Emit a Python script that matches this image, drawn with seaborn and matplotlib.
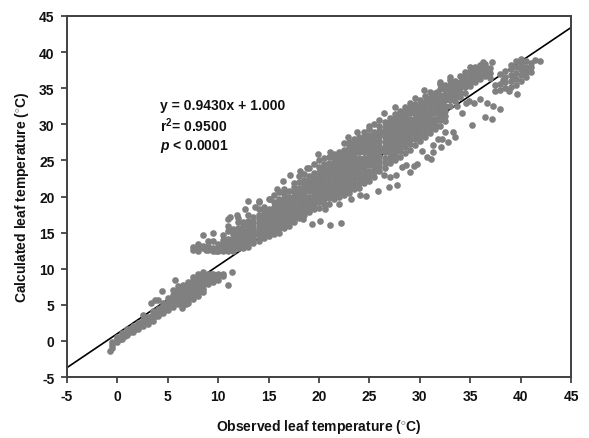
import matplotlib
matplotlib.use("Agg")
import matplotlib.pyplot as plt
import pandas as pd
import seaborn as sns

# Observed temperature columns and the calculated values read in each column
low_x = [-0.5, 0, 0.5, 1, 1.5, 2, 2.5, 3, 3.5, 4, 4.5, 5, 5.5, 6, 6.5, 7, 7.5, 8, 8.5, 9, 9.5, 10, 10.5]
low_y = [
    [-1.0, -0.5, -0.1], [-0.2, 0.3, 0.6], [0.3, 0.8, 1.1], [0.8, 1.2, 1.6], [1.2, 1.6, 2.1],
    [1.6, 2.0, 2.5], [2.0, 2.4, 2.9], [2.3, 2.8, 3.3], [2.8, 3.2, 3.7, 4.2], [3.5, 3.9, 4.4],
    [3.8, 4.3, 4.8, 5.3], [4.3, 4.8, 5.4, 5.9], [4.7, 5.2, 5.8, 6.3], [5.1, 5.6, 6.2, 6.8, 7.2],
    [5.6, 6.1, 6.7, 7.3, 7.8], [5.8, 6.4, 7.0, 7.6, 8.1], [6.3, 6.9, 7.5, 8.1, 8.5],
    [6.7, 7.3, 7.9, 8.4, 8.9], [7.2, 7.8, 8.3, 8.9, 9.2], [7.9, 8.4, 8.9, 9.3], [8.2, 8.7, 9.2],
    [8.5, 9.0, 9.3], [9.0, 9.3],
]
low_fill_x = [0.25, 0.75, 1.25, 1.75, 2.25, 2.75, 3.25, 3.75, 4.25, 4.75, 5.25, 5.75, 6.25, 6.25, 6.75, 6.75,
              7.25, 7.25, 7.75, 7.75, 8.25, 8.25, 8.75, 8.75, 9.25, 9.25, 9.75, 10.25, 1.25, 2.25, 3.25, 4.25,
              6.5, 7.0, 7.5, 8.0, 8.5, 5.5, 6.0, 7.5, 8.0, 8.5]
low_fill_y = [0.2, 0.7, 1.2, 1.6, 2.0, 2.5, 2.9, 3.4, 3.9, 4.4, 5.0, 5.4, 5.9, 6.6, 6.4, 7.2,
              6.6, 7.5, 7.3, 8.2, 7.6, 8.6, 8.2, 9.0, 8.6, 9.3, 9.0, 9.1, 1.6, 2.5, 3.3, 4.6,
              5.0, 5.3, 5.8, 6.2, 6.8, 7.0, 7.6, 8.9, 9.2, 9.5]
low_out_x = [5.7, 4.4, 3.3, 3.7, 11.4, 11.0, 6.4, 6.8, -0.73, 2.5, 4.0]
low_out_y = [8.4, 6.9, 5.25, 5.6, 9.6, 7.8, 4.55, 5.1, -1.36, 3.6, 5.7]

mid_x = [7.5, 8, 8.5, 9, 9.5, 10, 10.5, 11, 11.5, 12, 12.5, 13, 13.5, 14, 14.5, 15, 15.5, 16, 16.5, 17,
         17.5, 18, 18.5, 19, 19.5, 20, 20.5, 21]
mid_y = [
    [12.6, 13.0], [12.4, 12.9, 13.4], [12.8, 13.2, 14.7], [12.6, 13.2, 13.9], [12.5, 12.9, 13.8, 14.9],
    [12.4, 12.9, 13.4], [12.4, 12.9, 13.4, 14.0, 14.7], [12.5, 13.0, 13.5, 14.1, 15.2, 15.9, 16.9],
    [12.5, 13.0, 13.6, 14.2, 14.8, 15.5], [12.8, 13.3, 13.9, 14.5, 15.1, 15.7, 16.5, 17.0],
    [12.9, 13.5, 14.1, 14.7, 15.3, 15.9, 16.5], [13.0, 13.6, 14.2, 14.8, 15.4, 16.0, 16.6, 17.4],
    [13.5, 14.1, 14.7, 15.3, 15.9, 16.5, 17.1], [13.9, 14.5, 15.1, 15.7, 16.3, 16.9, 17.5, 18.2, 19.2],
    [14.3, 14.9, 15.5, 16.1, 16.7, 17.3, 18.0, 18.6], [14.5, 15.1, 15.8, 16.4, 17.0, 17.6, 18.3, 19.6],
    [14.8, 15.4, 16.0, 16.7, 17.3, 18.0, 18.6, 19.2, 20.2], [15.0, 15.6, 16.3, 17.0, 17.7, 18.3, 19.0, 19.6, 20.6],
    [15.6, 16.2, 16.9, 17.6, 18.3, 19.0, 19.7, 20.3, 21.0], [15.9, 16.6, 17.3, 18.0, 18.7, 19.4, 20.0, 20.7],
    [16.4, 17.1, 17.8, 18.5, 19.2, 19.9, 20.6, 21.3, 21.9], [17.0, 17.7, 18.4, 19.1, 19.8, 20.5, 21.2, 22.0, 22.8],
    [17.4, 18.1, 18.8, 19.5, 20.2, 20.9, 21.6, 22.3, 23.1], [17.9, 18.6, 19.3, 20.0, 20.7, 21.4, 22.1, 22.8, 24.0],
    [18.3, 19.0, 19.7, 20.4, 21.1, 21.8, 22.5, 23.2, 24.5], [18.4, 19.2, 19.9, 20.6, 21.3, 22.0, 22.7, 23.4, 24.1, 25.0],
    [18.9, 19.6, 20.3, 21.0, 21.7, 22.4, 23.1, 23.8, 24.5, 25.3], [19.0, 19.8, 20.5, 21.2, 21.9, 22.6, 23.3, 24.0, 24.7, 25.5],
]

high_x = [21.5, 22, 22.5, 23, 23.5, 24, 24.5, 25, 25.5, 26, 26.5, 27, 27.5, 28, 28.5, 29, 29.5, 30, 30.5, 31,
          31.5, 32, 32.5, 33, 33.5, 34, 34.5, 35, 35.5, 36, 36.5, 37, 37.5, 38, 38.5, 39, 39.5, 40, 40.5, 41]
high_y = [
    [19.6, 20.3, 21.0, 21.7, 22.4, 23.1, 23.8, 24.5, 25.2, 25.9],
    [19.9, 20.6, 21.3, 22.0, 22.7, 23.4, 24.1, 24.8, 25.5, 26.2],
    [20.2, 20.9, 21.6, 22.3, 23.0, 23.7, 24.4, 25.1, 25.8, 26.5, 27.4],
    [20.5, 21.2, 21.9, 22.6, 23.3, 24.0, 24.7, 25.4, 26.1, 26.8, 27.6],
    [21.0, 21.7, 22.4, 23.1, 23.8, 24.5, 25.2, 25.9, 26.6, 27.3, 28.0],
    [21.2, 21.9, 22.6, 23.3, 24.0, 24.7, 25.4, 26.1, 26.8, 27.5, 28.3],
    [21.9, 22.6, 23.3, 24.0, 24.7, 25.4, 26.1, 26.8, 27.5, 28.2, 29.0],
    [22.2, 22.9, 23.6, 24.3, 25.0, 25.7, 26.4, 27.1, 27.8, 28.5, 29.4],
    [22.7, 23.4, 24.1, 24.8, 25.5, 26.2, 26.9, 27.6, 28.3, 29.0, 30.0],
    [23.5, 24.2, 24.9, 25.6, 26.3, 27.0, 27.7, 28.4, 29.1, 29.8, 30.6],
    [24.0, 24.7, 25.4, 26.1, 26.8, 27.5, 28.2, 28.9, 29.6, 30.3],
    [24.6, 25.3, 26.0, 26.7, 27.4, 28.1, 28.8, 29.5, 30.2, 30.9],
    [25.1, 25.8, 26.5, 27.2, 27.9, 28.6, 29.3, 30.0, 30.7, 31.4],
    [25.5, 26.3, 27.0, 27.7, 28.4, 29.1, 29.8, 30.5, 31.2, 31.9],
    [26.0, 26.8, 27.5, 28.2, 28.9, 29.6, 30.3, 31.0, 31.7, 32.4],
    [26.5, 27.3, 28.0, 28.7, 29.4, 30.1, 30.8, 31.5, 32.2, 33.0],
    [27.2, 27.9, 28.6, 29.3, 30.0, 30.7, 31.4, 32.1, 32.8],
    [27.7, 28.4, 29.1, 29.8, 30.5, 31.2, 31.9, 32.6, 33.4],
    [28.2, 28.9, 29.6, 30.3, 31.0, 31.7, 32.4, 33.1, 33.9],
    [28.8, 29.5, 30.2, 30.9, 31.6, 32.3, 33.0, 33.7, 34.5],
    [29.4, 30.1, 30.8, 31.5, 32.2, 32.9, 33.6, 34.3],
    [29.8, 30.6, 31.3, 32.0, 32.7, 33.4, 34.1, 34.9, 35.6],
    [30.4, 31.2, 31.9, 32.6, 33.3, 34.0, 34.7, 35.4],
    [32.6, 33.3, 34.0, 34.7, 35.4, 36.2],
    [33.2, 33.9, 34.6, 35.3, 36.0],
    [33.8, 34.5, 35.2, 35.9, 36.7],
    [34.4, 35.1, 35.8, 36.5, 37.2],
    [35.3, 36.0, 36.7, 37.4],
    [35.9, 36.6, 37.3, 38.0],
    [36.3, 37.0, 37.7, 38.2],
    [36.7, 37.3, 37.9, 38.3],
    [36.4, 37.1, 37.8],
    [34.6, 35.4],
    [34.8, 35.6, 36.9],
    [35.0, 35.8, 36.6, 37.4],
    [35.2, 36.0, 36.8, 37.6, 38.2],
    [35.5, 36.3, 37.1, 37.9, 38.7],
    [36.0, 36.8, 37.6, 38.4, 39.0],
    [36.6, 37.3, 38.0, 38.7],
    [37.2, 37.9, 38.5],
]

# Irregular points on the band's upper and lower edges
edge_x = [16.46, 17.1, 18.1, 18.8, 19.9, 21.1, 22.9, 23.8, 25.0, 26.4, 27.5, 29.5, 30.4, 32.0, 33.0, 34.2, 35.0, 36.3, 37.2,
          18.4, 20.6, 23.2, 24.7, 25.9, 26.9, 29.4, 27.6, 28.6, 24.1, 22.0,
          11.2, 11.9, 13.0, 14.0, 15.1, 15.8, 12.7, 13.7]
edge_y = [22.1, 23.0, 23.5, 23.9, 25.9, 26.1, 28.2, 29.0, 29.7, 31.5, 32.4, 33.7, 34.8, 35.8, 36.6, 36.5, 38.0, 38.6, 38.6,
          16.9, 18.3, 19.7, 20.1, 20.8, 21.3, 24.2, 23.0, 24.4, 20.2, 19.0,
          17.2, 17.4, 19.4, 19.4, 19.6, 21.0, 18.2, 18.5]

# Points between the columns, in the body of the band
fill_x = [8.75, 9.25, 9.75, 10.25, 10.75, 11.25, 11.75, 12.25, 12.75, 13.25, 13.25, 13.75, 14.25, 14.25, 14.75, 14.75,
          15.25, 15.25, 15.75, 15.75, 16.25, 16.25, 16.75, 16.75, 17.25, 17.25, 17.75, 17.75, 18.25, 18.25, 18.75, 18.75,
          19.25, 19.25, 19.75, 19.75, 20.25, 20.25, 20.75, 20.75, 21.25, 21.25, 21.75, 21.75, 22.25, 22.25, 22.75, 22.75,
          23.25, 23.25, 23.75, 23.75, 24.25, 24.25, 24.75, 24.75, 25.25, 25.25, 25.75, 25.75, 26.25, 26.25, 26.75, 26.75,
          27.25, 27.25, 27.75, 27.75, 28.25, 28.25, 28.75, 28.75, 29.25, 29.25, 29.75, 29.75, 30.25, 30.25, 30.75, 30.75,
          31.25, 31.25, 31.75, 31.75, 32.25, 32.75, 33.25, 33.75, 34.25, 35.25, 36.25, 38.25, 39.25, 40.25]
fill_y = [12.6, 12.7, 12.5, 12.6, 12.7, 12.8, 13.1, 13.4, 14.4, 14.0, 16.0, 15.0, 14.6, 16.4, 15.2, 17.0,
          15.6, 17.3, 16.1, 17.9, 16.5, 18.6, 17.1, 19.3, 17.4, 19.7, 18.0, 20.3, 18.6, 20.8, 19.0, 21.5,
          19.4, 21.9, 19.9, 22.4, 20.5, 22.9, 20.9, 23.4, 21.3, 24.0, 22.0, 24.5, 22.5, 25.0, 23.0, 25.5,
          23.4, 26.0, 24.0, 26.6, 24.4, 27.0, 25.0, 27.5, 25.4, 28.0, 26.0, 28.6, 26.5, 29.0, 27.0, 29.5,
          27.5, 30.0, 28.0, 30.5, 28.5, 31.0, 29.0, 31.5, 29.5, 32.0, 30.0, 32.5, 30.5, 33.0, 31.0, 33.5,
          31.5, 34.0, 32.0, 34.5, 33.0, 33.6, 34.3, 35.0, 35.5, 36.4, 37.4, 36.2, 36.4, 37.2]

high_out_x = [19.3, 20.1, 21.1, 22.2, 27.7, 29.0, 29.7, 30.7, 31.3, 31.1, 32.1, 32.8, 33.5, 33.3, 32.5, 31.8,
              35.2, 36.5, 37.2, 36.0, 36.7, 37.3, 38.0, 39.6, 38.8, 34.2, 33.7, 34.6, 27.0, 26.4, 28.2,
              41.4, 41.9, 31.3, 30.2, 32.2, 35.4, 34.9]
high_out_y = [16.2, 16.6, 16.0, 16.3, 21.6, 23.4, 24.5, 25.5, 26.1, 25.2, 26.9, 27.5, 28.2, 29.0, 29.0, 28.0,
              29.9, 31.0, 30.7, 33.5, 33.0, 32.6, 32.1, 34.2, 34.6, 31.6, 32.5, 33.0, 22.7, 23.0, 24.1,
              38.9, 38.7, 27.2, 26.3, 28.0, 32.9, 33.2]

line_x = [-5, 45]
line_y = [-3.7, 43.4]
ticks = [-5, 0, 5, 10, 15, 20, 25, 30, 35, 40, 45]

xs, ys = [], []
for cols, rows in [(low_x, low_y), (mid_x, mid_y), (high_x, high_y)]:
    for x, col in zip(cols, rows):
        xs += [x] * len(col)
        ys += col
xs += low_fill_x + low_out_x + edge_x + fill_x + high_out_x
ys += low_fill_y + low_out_y + edge_y + fill_y + high_out_y
df = pd.DataFrame({"obs": xs, "calc": ys})

sns.set_style("white")
plt.rcParams.update({
    "font.family": "Liberation Sans",
    "font.weight": "bold",
    "axes.unicode_minus": False,
    "mathtext.fontset": "custom",
    "mathtext.rm": "Liberation Sans:bold",
    "mathtext.bf": "Liberation Sans:bold",
    "mathtext.it": "Liberation Sans:italic:bold",
})

fig, ax = plt.subplots(figsize=(5.89, 4.39), dpi=100)
fig.subplots_adjust(left=67 / 589, right=571 / 589, top=1 - 17 / 439, bottom=1 - 378 / 439)

sns.lineplot(x=line_x, y=line_y, color="black", lw=1.2, ax=ax, zorder=1)
sns.scatterplot(data=df, x="obs", y="calc", color="#808080", s=23, linewidth=0, ax=ax, zorder=2)

ax.set_xlim(-5, 45)
ax.set_ylim(-5, 45)
ax.set_xticks(ticks)
ax.set_yticks(ticks)
ax.tick_params(axis="both", which="major", length=4, width=1.2, color="#333333",
               labelsize=10, labelcolor="#111111", left=True, bottom=True, pad=5)
for s in ax.spines.values():
    s.set_color("#404040")
    s.set_linewidth(1.4)

ax.set_xlabel(r"Observed leaf temperature ($^{\circ}$C)", fontsize=10, fontweight="bold", labelpad=10, color="#111111")
ax.set_ylabel(r"Calculated leaf temperature ($^{\circ}$C)", fontsize=10, fontweight="bold", labelpad=6, color="#111111")

ax.text(4.2, 32.7, "y = 0.9430x + 1.000", fontsize=10, va="center", color="#111111")
ax.text(4.2, 30.0, r"r$^{2}$= 0.9500", fontsize=10, va="center", color="#111111")
ax.text(4.2, 27.1, r"$p$ < 0.0001", fontsize=10, va="center", color="#111111")

fig.savefig("out.png", dpi=100)
